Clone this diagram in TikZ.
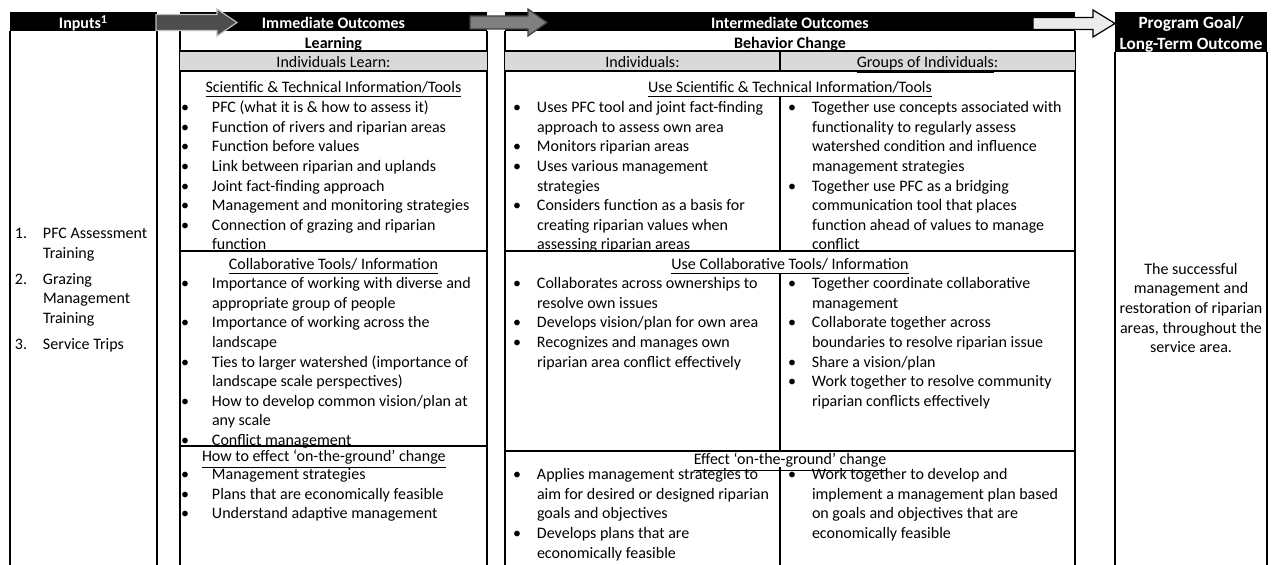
\documentclass[tikz,border=0pt]{standalone}
\usepackage{fontspec}
\setmainfont{Carlito}
\definecolor{rowgray}{RGB}{217,217,217}
\definecolor{arrowdark}{RGB}{77,77,77}
\definecolor{arrowdarkline}{RGB}{190,190,190}
\definecolor{arrowmid}{RGB}{128,128,128}
\definecolor{arrowmidline}{RGB}{64,64,64}
\definecolor{arrowlight}{RGB}{236,236,236}
% bullet boxes of the three list widths
\newcommand\ibul{\makebox[15.5pt][l]{\textbullet}}
\newcommand\mbul{\makebox[12pt][l]{\textbullet}}
\newcommand\nbul[1]{\makebox[14pt][l]{#1}}
\begin{document}
\begin{tikzpicture}[x=0.5pt,y=-0.5pt,
  every node/.style={inner sep=0pt,outer sep=0pt,font=\fontsize{8}{9.8}\selectfont},
  hdrtext/.style={text=white,font=\fontsize{8}{9.8}\selectfont\bfseries,anchor=base},
  boldtext/.style={font=\fontsize{8}{9.8}\selectfont\bfseries,anchor=base},
  ttl/.style={anchor=base},
  blk/.style={anchor=north west},
  frame/.style={line width=0.55pt,draw=black},
  blockarrow/.style={line width=0.6pt,line join=miter}
]
\useasboundingbox (0,0) rectangle (1276,565);
\fill[white] (0,0) rectangle (1276,565);

% ---------- header bands ----------
\fill[black] (10,12) rectangle (157,31);
\fill[black] (180,12) rectangle (487,31);
\fill[black] (505,12) rectangle (1075,31);
\fill[black] (1115,12) rectangle (1267,52);

% ---------- column frames ----------
\draw[frame] (10,31) -- (10,565) (157,31) -- (157,565);
\draw[frame] (180,31) -- (180,565) (487,31) -- (487,565);
\draw[frame] (505,31) -- (505,565) (1075,31) -- (1075,565);
\draw[frame] (1115,52) -- (1115,565) (1267,52) -- (1267,565);

% gray sub-header rows
\fill[rowgray] (180,51) rectangle (487,71);
\fill[rowgray] (505,51) rectangle (1075,71);

% row rules, immediate outcomes
\draw[frame] (180,51) -- (487,51) (180,71) -- (487,71)
             (180,251) -- (487,251) (180,446) -- (487,446);
% row rules, intermediate outcomes
\draw[frame] (505,51) -- (1075,51) (505,71) -- (1075,71)
             (505,251) -- (1075,251) (505,451) -- (1075,451);
% split between individuals and groups
\draw[frame] (780,51) -- (780,71) (780,96) -- (780,251)
             (780,273) -- (780,451) (780,467) -- (780,565);

% ---------- block arrows ----------
\draw[blockarrow,fill=arrowdark,draw=arrowdarkline]
  (156,14.5) -- (217,14.5) -- (217,9) -- (237,22.5) -- (217,36) -- (217,30.5) -- (156,30.5) -- cycle;
\draw[blockarrow,fill=arrowmid,draw=arrowmidline]
  (470,16) -- (528,16) -- (528,9) -- (547,22.5) -- (528,36) -- (528,29) -- (470,29) -- cycle;
\draw[blockarrow,fill=arrowlight,draw=black]
  (1033,17.5) -- (1093,17.5) -- (1093,10) -- (1115,23.5) -- (1093,37) -- (1093,29.5) -- (1033,29.5) -- cycle;

% ---------- header texts ----------
\node[hdrtext] (hInputs) at (83.5,29) {Inputs\textsuperscript{1}};
\node[hdrtext] (hImm) at (333.5,29) {Immediate Outcomes};
\node[hdrtext] (hInt) at (790,29) {Intermediate Outcomes};
\node[hdrtext,anchor=north,font=\fontsize{8.6}{10.4}\selectfont\bfseries] (hGoal) at (1191,13.8)
  {\begin{tabular}{@{}c@{}}Program Goal/\\ Long-Term Outcome\end{tabular}};

\node[boldtext] (learning) at (333.5,49) {Learning};
\node[boldtext] (behavior) at (790,49) {Behavior Change};
\node[ttl] (indLearn) at (333.5,67.5) {\underline{Individuals} Learn:};
\node[ttl] (indiv) at (642.5,67.5) {\underline{Individuals}:};
\node[ttl] (groups) at (927.5,67.5) {\underline{Groups of Individuals}:};

% ---------- inputs ----------
\node[blk] (inputList) at (15,225) {\begin{tabular}{@{}l@{}l@{}}
\nbul{1.} & PFC Assessment\\
 & Training\\[3.2pt]
\nbul{2.} & Grazing\\
 & Management\\
 & Training\\[3.4pt]
\nbul{3.} & Service Trips
\end{tabular}};

% ---------- immediate outcomes ----------
\node[ttl] (imSciT) at (333.5,92.5) {\underline{Scientific \& Technical Information/Tools}};
\node[blk] (imSci) at (181,99) {\begin{tabular}{@{}l@{}l@{}}
\ibul & PFC (what it is \& how to assess it)\\
\ibul & Function of rivers and riparian areas\\
\ibul & Function before values\\
\ibul & Link between riparian and uplands\\
\ibul & Joint fact-finding approach\\
\ibul & Management and monitoring strategies\\
\ibul & Connection of grazing and riparian\\
 & function
\end{tabular}};

\node[ttl] (imColT) at (333.5,269.5) {\underline{Collaborative Tools/ Information}};
\node[blk] (imCol) at (181,275) {\begin{tabular}{@{}l@{}l@{}}
\ibul & Importance of working with diverse and\\
 & appropriate group of people\\
\ibul & Importance of working across the\\
 & landscape\\
\ibul & Ties to larger watershed (importance of\\
 & landscape scale perspectives)\\
\ibul & How to develop common vision/plan at\\
 & any scale\\
\ibul & Conflict management
\end{tabular}};

\node[ttl,anchor=base west] (imGrdT) at (202,462) {\underline{How to effect ‘on-the-ground’ change}};
\node[blk] (imGrd) at (181,466) {\begin{tabular}{@{}l@{}l@{}}
\ibul & Management strategies\\
\ibul & Plans that are economically feasible\\
\ibul & Understand adaptive management
\end{tabular}};

% ---------- intermediate outcomes ----------
\node[ttl] (inSciT) at (790,92.5) {\underline{Use Scientific \& Technical Information/Tools}};
\node[blk] (inSciA) at (513,99) {\begin{tabular}{@{}l@{}l@{}}
\mbul & Uses PFC tool and joint fact-finding\\
 & approach to assess own area\\
\mbul & Monitors riparian areas\\
\mbul & Uses various management\\
 & strategies\\
\mbul & Considers function as a basis for\\
 & creating riparian values when\\
 & assessing riparian areas
\end{tabular}};
\node[blk] (inSciB) at (788,99) {\begin{tabular}{@{}l@{}l@{}}
\mbul & Together use concepts associated with\\
 & functionality to regularly assess\\
 & watershed condition and influence\\
 & management strategies\\
\mbul & Together use PFC as a bridging\\
 & communication tool that places\\
 & function ahead of values to manage\\
 & conflict
\end{tabular}};

\node[ttl] (inColT) at (790,269.5) {\underline{Use Collaborative Tools/ Information}};
\node[blk] (inColA) at (513,275) {\begin{tabular}{@{}l@{}l@{}}
\mbul & Collaborates across ownerships to\\
 & resolve own issues\\
\mbul & Develops vision/plan for own area\\
\mbul & Recognizes and manages own\\
 & riparian area conflict effectively
\end{tabular}};
\node[blk] (inColB) at (788,275) {\begin{tabular}{@{}l@{}l@{}}
\mbul & Together coordinate collaborative\\
 & management\\
\mbul & Collaborate together across\\
 & boundaries to resolve riparian issue\\
\mbul & Share a vision/plan\\
\mbul & Work together to resolve community\\
 & riparian conflicts effectively
\end{tabular}};

\node[ttl] (inGrdT) at (790,465) {\underline{Effect ‘on-the-ground’ change}};
\node[blk] (inGrdA) at (513,466) {\begin{tabular}{@{}l@{}l@{}}
\mbul & Applies management strategies to\\
 & aim for desired or designed riparian\\
 & goals and objectives\\
\mbul & Develops plans that are\\
 & economically feasible
\end{tabular}};
\node[blk] (inGrdB) at (788,466) {\begin{tabular}{@{}l@{}l@{}}
\mbul & Work together to develop and\\
 & implement a management plan based\\
 & on goals and objectives that are\\
 & economically feasible
\end{tabular}};

% ---------- program goal ----------
\node[anchor=north] (goal) at (1191,260.5) {\begin{tabular}{@{}c@{}}
The successful\\
management and\\
restoration of riparian\\
areas, throughout the\\
service area.
\end{tabular}};
\end{tikzpicture}
\end{document}
